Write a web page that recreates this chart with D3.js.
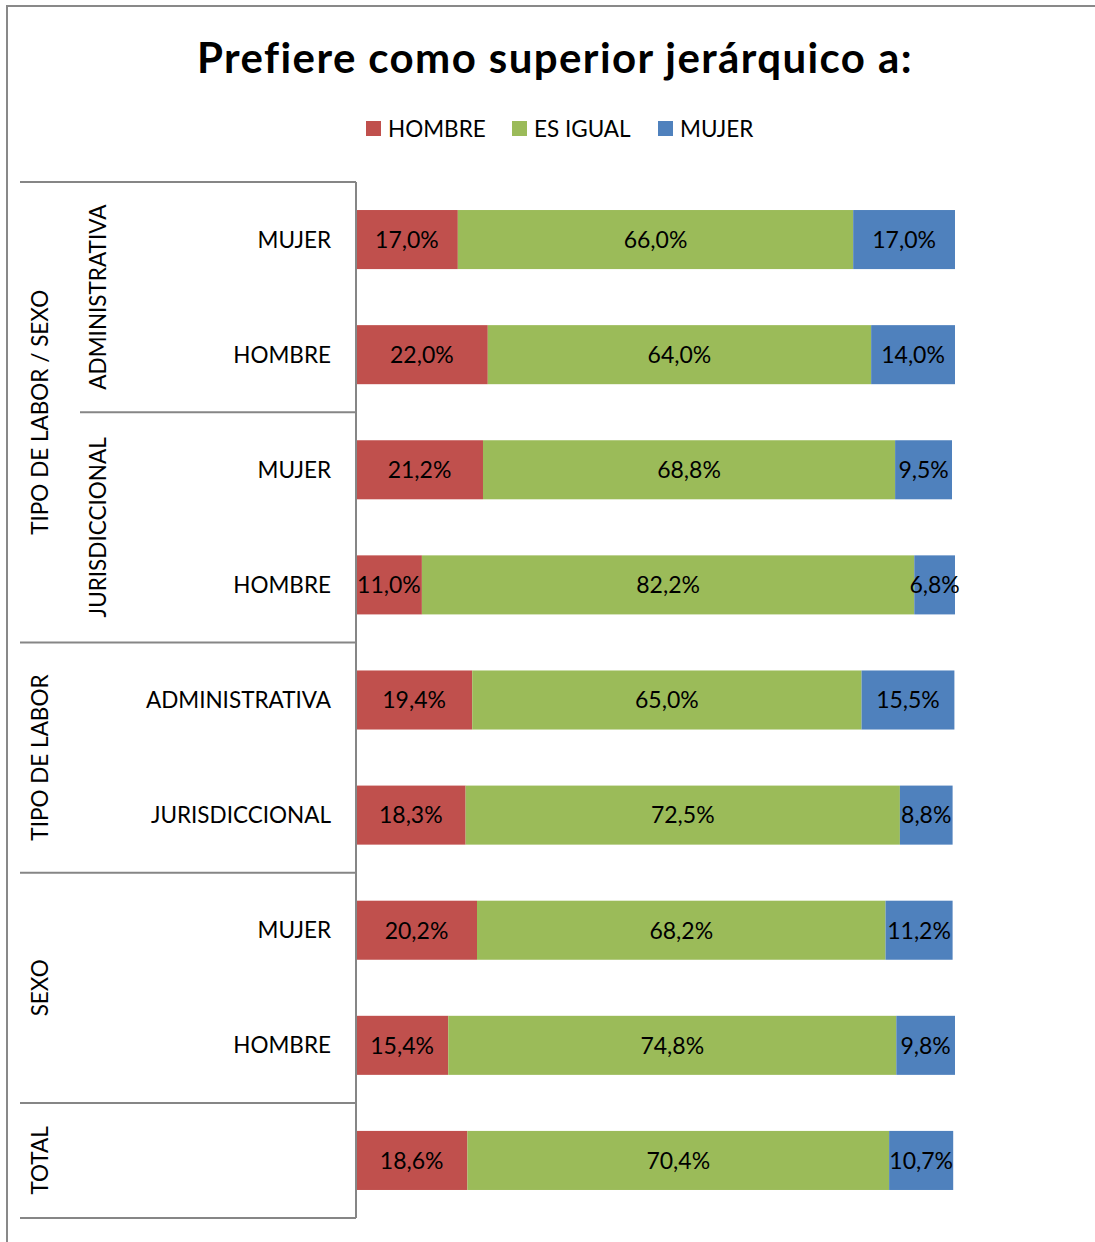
<!DOCTYPE html>
<html>
<head>
<meta charset="utf-8">
<script src="https://cdn.jsdelivr.net/npm/d3@7"></script>
<style>
  body { margin: 0; background: #fff; }
  text { font-family: Lato, "Open Sans", sans-serif; fill: #000; }
</style>
</head>
<body>
<script>
//chart data, one row per bar from top to bottom
var rowLabels = ["MUJER", "HOMBRE", "MUJER", "HOMBRE", "ADMINISTRATIVA", "JURISDICCIONAL", "MUJER", "HOMBRE", ""];
var seriesNames = ["HOMBRE", "ES IGUAL", "MUJER"];
var hombre = [17.0, 22.0, 21.2, 11.0, 19.4, 18.3, 20.2, 15.4, 18.6];
var esIgual = [66.0, 64.0, 68.8, 82.2, 65.0, 72.5, 68.2, 74.8, 70.4];
var mujer = [17.0, 14.0, 9.5, 6.8, 15.5, 8.8, 11.2, 9.8, 10.7];

//outer and middle category groups (start row, number of rows)
var outerGroups = [
    {name: "TIPO DE LABOR / SEXO", start: 0, size: 4},
    {name: "TIPO DE LABOR", start: 4, size: 2},
    {name: "SEXO", start: 6, size: 2},
    {name: "TOTAL", start: 8, size: 1}
];
var middleGroups = [
    {name: "ADMINISTRATIVA", start: 0, size: 2},
    {name: "JURISDICCIONAL", start: 2, size: 2}
];

var colors = ["#C0504D", "#9BBB59", "#4F81BD"];

window.onload = drawChart();

function drawChart() {
    var width = 1095,
        height = 1242;

    var svg = d3.select("body")
        .append("svg")
        .attr("width", width)
        .attr("height", height);

    //chart frame, runs off the right and bottom like the original
    svg.append("rect")
        .attr("x", 7)
        .attr("y", 6)
        .attr("width", 1100)
        .attr("height", 1250)
        .attr("fill", "#fff")
        .attr("stroke", "#898989")
        .attr("stroke-width", 2);

    //plot area bounds
    var left = 356,
        top = 182,
        bottom = 1218,
        plotRight = 955;

    var idx = d3.range(rowLabels.length);

    var y = d3.scaleBand()
        .domain(idx)
        .range([top, bottom])
        .paddingInner(0.487)
        .paddingOuter(0.2435);

    var x = d3.scaleLinear()
        .domain([0, 100])
        .range([left, plotRight]);

    var table = idx.map(function(i) {
        return {i: i, "HOMBRE": hombre[i], "ES IGUAL": esIgual[i], "MUJER": mujer[i]};
    });

    var stacked = d3.stack().keys(seriesNames)(table);

    var fmt = function(v) { return v.toFixed(1).replace(".", ",") + "%"; };

    var layers = svg.selectAll(".layer")
        .data(stacked)
        .enter()
        .append("g")
        .attr("class", "layer")
        .attr("fill", function(d, k) { return colors[k]; });

    layers.selectAll("rect")
        .data(function(d) { return d; })
        .enter()
        .append("rect")
        .attr("x", function(d) { return x(d[0]); })
        .attr("y", function(d) { return y(d.data.i); })
        .attr("width", function(d) { return x(d[1]) - x(d[0]); })
        .attr("height", y.bandwidth());

    //value labels centred in each segment
    layers.selectAll("text")
        .data(function(d) { return d; })
        .enter()
        .append("text")
        .attr("x", function(d) { return (x(d[0]) + x(d[1])) / 2; })
        .attr("y", function(d) { return y(d.data.i) + y.bandwidth() / 2; })
        .attr("dy", "0.36em")
        .attr("text-anchor", "middle")
        .style("font-size", "23px")
        .text(function(d) { return fmt(d[1] - d[0]); });

    //category axis lines
    var step = y.step();
    var rowTop = function(r) { return top + r * step; };
    var axisColor = "#868686";

    svg.append("line")
        .attr("x1", left).attr("x2", left)
        .attr("y1", top).attr("y2", bottom)
        .attr("stroke", axisColor).attr("stroke-width", 2);

    var outerEdges = outerGroups.map(function(g) { return g.start; }).concat([rowLabels.length]);
    svg.selectAll(".outerLine")
        .data(outerEdges)
        .enter()
        .append("line")
        .attr("x1", 20).attr("x2", left)
        .attr("y1", rowTop).attr("y2", rowTop)
        .attr("stroke", axisColor).attr("stroke-width", 2);

    svg.selectAll(".midLine")
        .data(middleGroups.slice(1))
        .enter()
        .append("line")
        .attr("x1", 80).attr("x2", left)
        .attr("y1", function(d) { return rowTop(d.start); })
        .attr("y2", function(d) { return rowTop(d.start); })
        .attr("stroke", axisColor).attr("stroke-width", 2);

    //row labels
    svg.selectAll(".rowLabel")
        .data(idx)
        .enter()
        .append("text")
        .attr("x", 331)
        .attr("y", function(i) { return y(i) + y.bandwidth() / 2; })
        .attr("dy", "0.36em")
        .attr("text-anchor", "end")
        .style("font-size", "22.5px")
        .text(function(i) { return rowLabels[i]; });

    //rotated group labels
    function groupLabels(data, cx) {
        svg.selectAll(null)
            .data(data)
            .enter()
            .append("text")
            .attr("transform", function(d) {
                var cy = rowTop(d.start) + d.size * step / 2;
                return "translate(" + cx + "," + cy + ") rotate(-90)";
            })
            .attr("dy", "0.36em")
            .attr("text-anchor", "middle")
            .style("font-size", "22.5px")
            .text(function(d) { return d.name; });
    }
    groupLabels(outerGroups, 40);
    groupLabels(middleGroups, 98);

    //title
    svg.append("text")
        .attr("x", 555)
        .attr("y", 73)
        .attr("text-anchor", "middle")
        .style("font-size", "42px")
        .style("font-weight", "bold")
        .style("letter-spacing", "1.4px")
        .text("Prefiere como superior jerárquico a:");

    //legend
    var legendX = [366, 512, 658];
    var legend = svg.selectAll(".legend")
        .data(seriesNames)
        .enter()
        .append("g")
        .attr("transform", function(d, k) { return "translate(" + legendX[k] + ",121)"; });

    legend.append("rect")
        .attr("width", 15)
        .attr("height", 15)
        .attr("fill", function(d, k) { return colors[k]; });

    legend.append("text")
        .attr("x", 22)
        .attr("y", 16)
        .style("font-size", "22.5px")
        .text(function(d) { return d; });
}
</script>
</body>
</html>
